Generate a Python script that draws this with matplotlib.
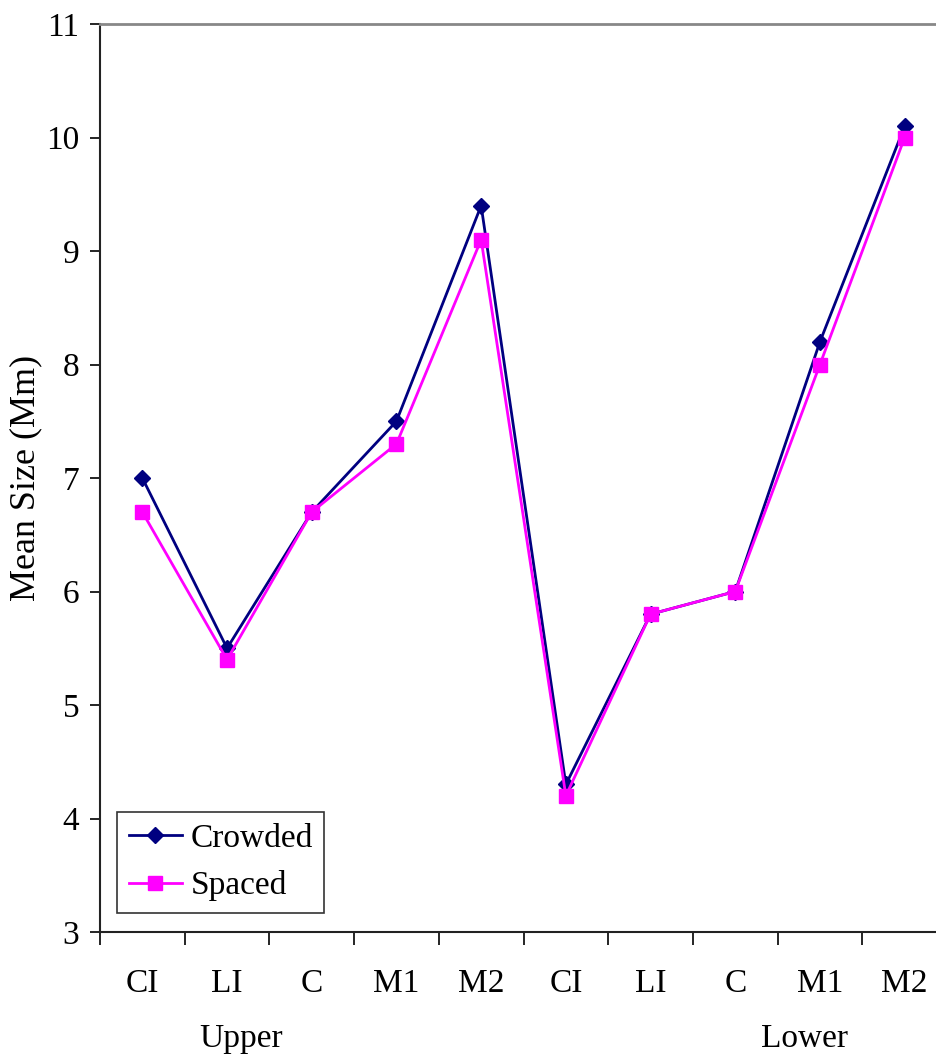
import matplotlib
matplotlib.use("Agg")
import matplotlib.pyplot as plt
from matplotlib.ticker import FixedLocator, NullFormatter

categories = ["CI", "LI", "C", "M1", "M2", "CI", "LI", "C", "M1", "M2"]
groups = ["Upper", "Lower"]
crowded = [7.0, 5.5, 6.7, 7.5, 9.4, 4.3, 5.8, 6.0, 8.2, 10.1]
spaced = [6.7, 5.4, 6.7, 7.3, 9.1, 4.2, 5.8, 6.0, 8.0, 10.0]
yticks = [3, 4, 5, 6, 7, 8, 9, 10, 11]

plt.rcParams['font.family'] = ['Liberation Serif', 'DejaVu Serif']
FS = 24

W, H = 936, 1059
fig = plt.figure(figsize=(W / 100, H / 100), dpi=100)
left, right, top, bottom = 100, 947, 24, 932
ax = fig.add_axes([left / W, 1 - bottom / H, (right - left) / W, (bottom - top) / H])

x = list(range(len(categories)))
ax.plot(x, crowded, color="#000080", lw=2, marker="D", ms=8, label="Crowded", zorder=3)
ax.plot(x, spaced, color="#FF00FF", lw=2, marker="s", ms=10, label="Spaced", zorder=4)

ax.set_xlim(-0.5, len(categories) - 0.5)
ax.set_ylim(3, 11)
ax.set_yticks(yticks)
ax.set_yticklabels([str(t) for t in yticks], fontsize=FS)
ax.tick_params(axis="y", direction="out", length=7, width=1.2, pad=8, colors="black")

ax.xaxis.set_major_locator(FixedLocator([i - 0.5 for i in range(len(categories) + 1)]))
ax.xaxis.set_major_formatter(NullFormatter())
ax.xaxis.set_minor_locator(FixedLocator(x))
ax.set_xticklabels(categories, minor=True, fontsize=FS)
ax.tick_params(axis="x", which="major", direction="out", length=9, width=1.2)
ax.tick_params(axis="x", which="minor", length=0, pad=26)

for s in ["left", "bottom"]:
    ax.spines[s].set_color("#222222")
    ax.spines[s].set_linewidth(1.5)
ax.spines["top"].set_color("#888888")
ax.spines["top"].set_linewidth(2)
ax.spines["right"].set_visible(False)

ylab = ax.set_ylabel("Mean Size (Mm)", fontsize=26)
ylab.set_verticalalignment("center")
ax.yaxis.set_label_coords((26 - left) / (right - left), (bottom - 478) / (bottom - top))

trans = ax.get_xaxis_transform()
ax.text(1.17, -0.118, groups[0], transform=trans, ha="center", va="center", fontsize=FS)
ax.text(7.82, -0.118, groups[1], transform=trans, ha="center", va="center", fontsize=FS)

leg = ax.legend(loc="lower left", bbox_to_anchor=((117 - left) / (right - left), (bottom - 913) / (bottom - top)),
                frameon=True, fancybox=False, fontsize=FS, handlelength=1.6, borderpad=0.35,
                labelspacing=0.5, handletextpad=0.25, borderaxespad=0)
leg.get_frame().set_edgecolor("black")
leg.get_frame().set_linewidth(1.2)

fig.savefig("out.png", dpi=100)
